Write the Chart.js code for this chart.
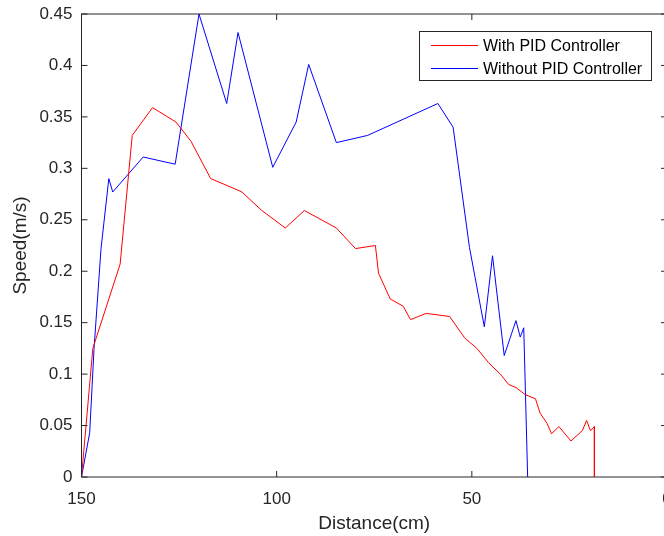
<!DOCTYPE html>
<html>
<head>
<meta charset="utf-8">
<script src="https://cdn.jsdelivr.net/npm/chart.js@4.4.1/dist/chart.umd.min.js"></script>
<style>
  html, body { margin: 0; padding: 0; background: #fff; overflow: hidden; }
  #wrap { width: 680px; height: 536px; }
</style>
</head>
<body>
<div id="wrap"><canvas id="chart" width="680" height="536"></canvas></div>
<script>
// ── data ──
const SERIES_NAMES = ['With PID Controller', 'Without PID Controller'];
const SERIES_COLORS = ['#ff0000', '#0000ff'];

const pidDist = [150, 147.1, 140.1, 137.0, 131.8, 125.8, 121.9, 116.9, 111.9, 108.9,
  103.8, 97.8, 92.9, 84.7, 79.8, 74.7, 73.9, 70.9, 67.6, 65.7,
  61.7, 55.7, 51.8, 48.7, 45.7, 42.7, 40.6, 38.7, 36.3, 33.7,
  32.5, 30.7, 29.6, 27.7, 24.6, 21.7, 20.6, 19.6, 18.6, 18.6];
const pidSpeed = [0, 0.125, 0.207, 0.332, 0.359, 0.345, 0.326, 0.290, 0.282, 0.277,
  0.259, 0.242, 0.259, 0.242, 0.222, 0.225, 0.198, 0.173, 0.166, 0.153,
  0.159, 0.156, 0.135, 0.125, 0.111, 0.100, 0.090, 0.087, 0.080, 0.076,
  0.062, 0.052, 0.042, 0.049, 0.035, 0.045, 0.055, 0.045, 0.049, 0];

const rawDist = [150, 147.9, 146.8, 145.0, 143.0, 142.0, 134.2, 126.0, 119.9, 112.8,
  109.9, 101.0, 95.0, 91.8, 84.7, 76.7, 58.7, 54.8, 50.6, 46.8,
  44.7, 41.7, 38.7, 37.6, 36.7, 35.7];
const rawSpeed = [0, 0.043, 0.124, 0.222, 0.290, 0.277, 0.311, 0.304, 0.450, 0.363,
  0.432, 0.301, 0.345, 0.401, 0.325, 0.332, 0.363, 0.340, 0.223, 0.146,
  0.215, 0.118, 0.152, 0.136, 0.145, 0];

const X_MIN = 0, X_MAX = 150, X_STEP = 50;
const Y_MIN = 0, Y_MAX = 0.45, Y_STEP = 0.05;

const AXIS_COLOR = '#262626';
const FONT = '"Liberation Sans", Arial, sans-serif';
const TICK = 6;

const toPoints = (xs, ys) => xs.map((x, i) => ({ x, y: ys[i] }));

// keep the plot box exactly where layout.padding puts it
const noEdgePadding = s => { s.paddingTop = 0; s.paddingBottom = 0; s.paddingLeft = 0; s.paddingRight = 0; };

/* axes box with inward ticks on all four sides (MATLAB style) */
const framePlugin = {
  id: 'frame',
  afterDatasetsDraw(chart) {
    const { ctx, chartArea: a, scales: { x, y } } = chart;
    ctx.save();
    ctx.strokeStyle = AXIS_COLOR;
    ctx.lineWidth = 1;
    ctx.strokeRect(a.left, a.top, a.right - a.left, a.bottom - a.top);
    ctx.beginPath();
    x.ticks.forEach(t => {
      const px = x.getPixelForValue(t.value);
      ctx.moveTo(px, a.bottom); ctx.lineTo(px, a.bottom - TICK);
      ctx.moveTo(px, a.top); ctx.lineTo(px, a.top + TICK);
    });
    y.ticks.forEach(t => {
      const py = y.getPixelForValue(t.value);
      ctx.moveTo(a.left, py); ctx.lineTo(a.left + TICK, py);
      ctx.moveTo(a.right, py); ctx.lineTo(a.right - TICK, py);
    });
    ctx.stroke();
    ctx.restore();
  }
};

/* boxed legend inside the axes, top right */
const legendPlugin = {
  id: 'boxLegend',
  afterDraw(chart) {
    const { ctx } = chart;
    const box = { x: 419.5, y: 31.5, w: 232, h: 49 };
    ctx.save();
    ctx.fillStyle = '#fff';
    ctx.fillRect(box.x, box.y, box.w, box.h);
    ctx.strokeStyle = AXIS_COLOR;
    ctx.lineWidth = 1;
    ctx.strokeRect(box.x, box.y, box.w, box.h);
    ctx.font = '16px ' + FONT;
    ctx.textBaseline = 'middle';
    ctx.fillStyle = '#000';
    chart.data.datasets.forEach((ds, i) => {
      const cy = 45.5 + i * 23;
      ctx.strokeStyle = ds.borderColor;
      ctx.beginPath();
      ctx.moveTo(431, cy); ctx.lineTo(478, cy);
      ctx.stroke();
      ctx.fillText(ds.label, 483, cy + 1);
    });
    ctx.restore();
  }
};

const noGrid = { display: false, drawTicks: false, tickLength: 0 };

new Chart(document.getElementById('chart'), {
  type: 'line',
  data: {
    datasets: [
      { label: SERIES_NAMES[0], data: toPoints(pidDist, pidSpeed), borderColor: SERIES_COLORS[0] },
      { label: SERIES_NAMES[1], data: toPoints(rawDist, rawSpeed), borderColor: SERIES_COLORS[1] }
    ].map(d => ({ ...d, borderWidth: 1, pointRadius: 0, tension: 0, fill: false }))
  },
  options: {
    responsive: false,
    animation: false,
    layout: { padding: { top: 14, right: 13, left: 0, bottom: 0 } },
    plugins: { legend: { display: false }, tooltip: { enabled: false } },
    scales: {
      x: {
        type: 'linear',
        reverse: true,
        min: X_MIN, max: X_MAX,
        ticks: { stepSize: X_STEP, padding: 12, color: AXIS_COLOR, font: { family: FONT, size: 17 }, maxRotation: 0 },
        grid: noGrid,
        border: { display: false },
        title: { display: true, text: 'Distance(cm)', color: AXIS_COLOR, font: { family: FONT, size: 19 }, padding: { top: 0, bottom: 1 } },
        afterFit: s => { s.height = 59; noEdgePadding(s); }
      },
      y: {
        min: Y_MIN, max: Y_MAX,
        ticks: { stepSize: Y_STEP, padding: 9, color: AXIS_COLOR, font: { family: FONT, size: 17 },
          callback: v => String(Number(v.toFixed(2))) },
        grid: noGrid,
        border: { display: false },
        title: { display: true, text: 'Speed(m/s)', color: AXIS_COLOR, font: { family: FONT, size: 19 }, padding: { top: 9, bottom: 0 } },
        afterFit: s => { s.width = 81.5; noEdgePadding(s); }
      }
    }
  },
  plugins: [framePlugin, legendPlugin]
});
</script>
</body>
</html>
